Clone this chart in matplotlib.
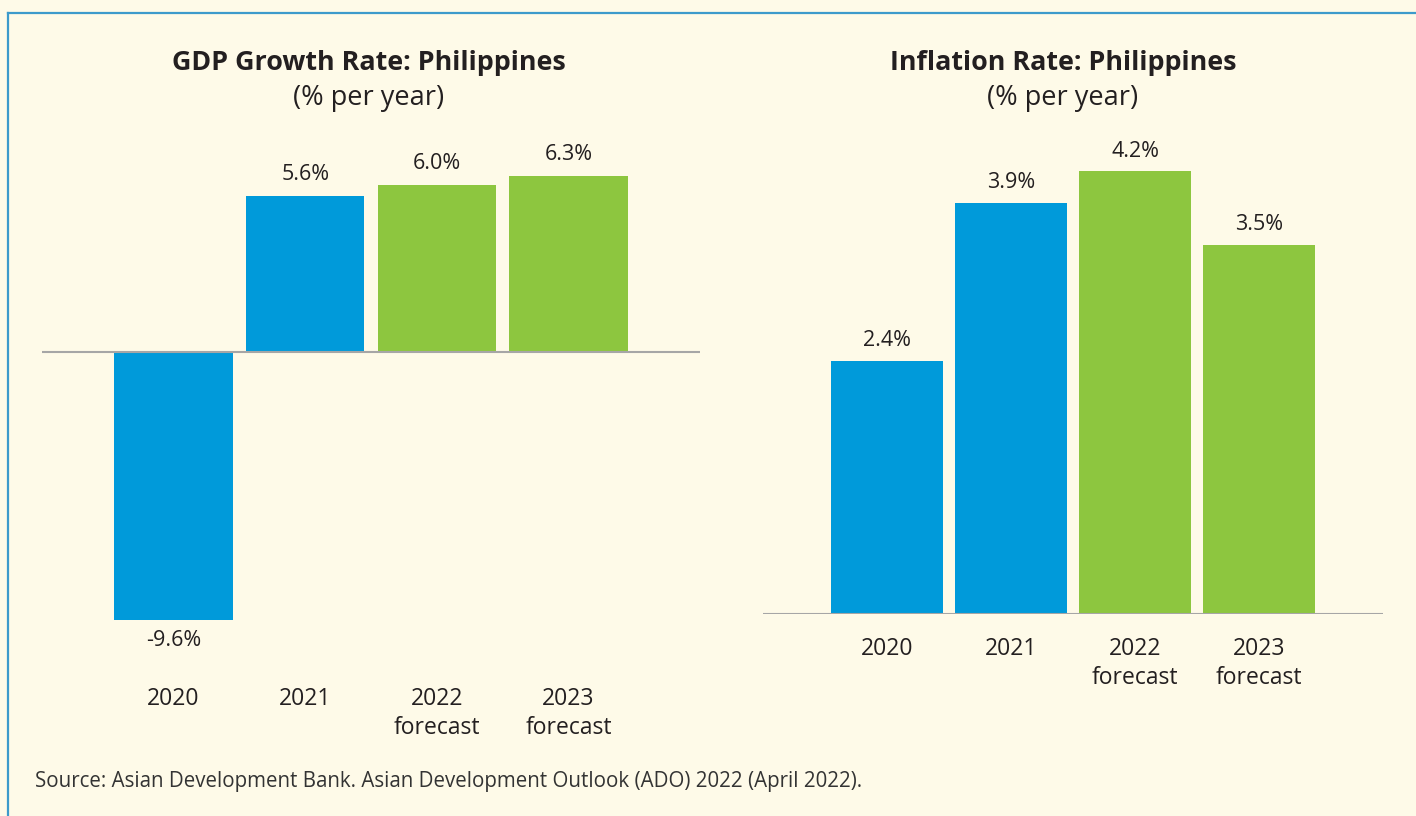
import matplotlib
matplotlib.use("Agg")
import matplotlib.pyplot as plt
from matplotlib.lines import Line2D

# ---- data ----
categories = ["2020", "2021", "2022\nforecast", "2023\nforecast"]
gdp_values = [-9.6, 5.6, 6.0, 6.3]
gdp_labels = ["-9.6%", "5.6%", "6.0%", "6.3%"]
infl_values = [2.4, 3.9, 4.2, 3.5]
infl_labels = ["2.4%", "3.9%", "4.2%", "3.5%"]
is_forecast = [False, False, True, True]
gdp_title = "GDP Growth Rate: Philippines"
infl_title = "Inflation Rate: Philippines"
subtitle = "(% per year)"
source = "Source: Asian Development Bank. Asian Development Outlook (ADO) 2022 (April 2022)."

BG = "#FEFAE8"
BLUE = "#009ADA"
GREEN = "#8DC63F"
TXT = "#231F20"
AXIS = "#A6A6A6"
BORDER = "#3D9ACB"

W, H = 1416, 816
plt.rcParams["font.family"] = ["Open Sans", "DejaVu Sans"]

fig = plt.figure(figsize=(W / 100, H / 100), dpi=100, facecolor=BG)


def px_axes(x0, x1, y_top, y_bot):
    return fig.add_axes([x0 / W, 1 - y_bot / H, (x1 - x0) / W, (y_bot - y_top) / H])


def draw(ax, values, labels, ymin, ymax, pad, off, neg_off):
    colors = [GREEN if f else BLUE for f in is_forecast]
    xs = list(range(len(values)))
    bars = ax.bar(xs, values, width=0.9, color=colors, zorder=2)
    ax.set_xlim(-1, 4)
    ax.set_ylim(ymin, ymax)
    ax.axhline(0, color=AXIS, lw=1.5, zorder=3)
    ax.set_facecolor("none")
    for s in ax.spines.values():
        s.set_visible(False)
    ax.set_yticks([])
    ax.set_xticks(xs)
    ax.set_xticklabels(categories, fontsize=16.5, color=TXT, linespacing=1.3)
    ax.tick_params(axis="x", length=0, pad=pad)
    for b, v, lab in zip(bars, values, labels):
        y = b.get_height() if v >= 0 else v
        ax.annotate(lab, (b.get_x() + b.get_width() / 2, y),
                    xytext=(0, off if v >= 0 else -neg_off),
                    textcoords="offset points", ha="center", va="center",
                    fontsize=15.5, color=TXT)


# left chart: 0 at y=352, 27.9 px/unit
sc1 = 27.9
top1, bot1 = 150, 660
ax1 = px_axes(42, 700, top1, bot1)
draw(ax1, gdp_values, gdp_labels, -(bot1 - 352) / sc1, (352 - top1) / sc1, 19.5, 15.5, 15)

# right chart: 0 at y=614, 105.4 px/unit
sc2 = 105.4
top2, bot2 = 150, 614
ax2 = px_axes(763, 1383, top2, bot2)
draw(ax2, infl_values, infl_labels, 0, (614 - top2) / sc2, 16.5, 14.5, 14.5)

# titles
for cx, t in [(369, gdp_title), (1063, infl_title)]:
    fig.text(cx / W, 1 - 63 / H, t, ha="center", va="center", fontsize=19.4,
             fontweight="bold", color=TXT)
    fig.text(cx / W, 1 - 98 / H, subtitle, ha="center", va="center", fontsize=19.5,
             fontweight="medium", color=TXT)

fig.text(35 / W, 1 - 781 / H, source, ha="left", va="center", fontsize=14.8, color="#333333")

# border
fig.add_artist(Line2D([8 / W, 1], [1 - 13 / H, 1 - 13 / H], color=BORDER, lw=1.6,
                      transform=fig.transFigure))
fig.add_artist(Line2D([8 / W, 8 / W], [1 - 13 / H, 0], color=BORDER, lw=1.6,
                      transform=fig.transFigure))

fig.savefig("out.png", dpi=100, facecolor=BG)
